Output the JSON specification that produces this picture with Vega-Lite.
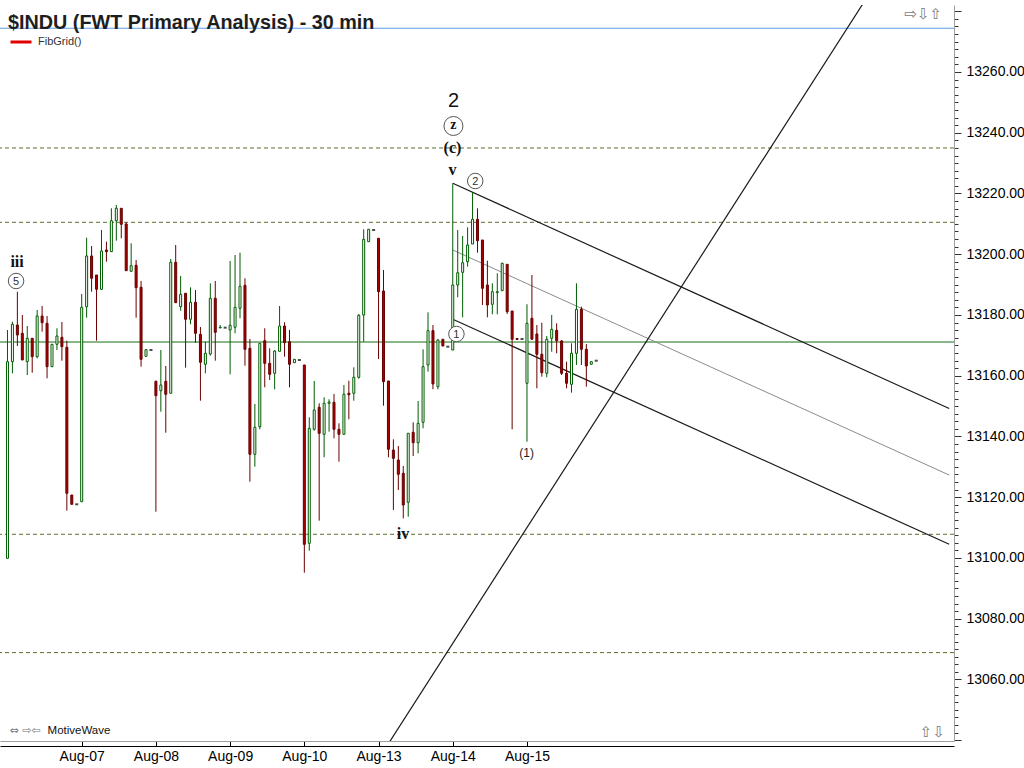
{
  "$schema": "https://vega.github.io/schema/vega-lite/v6.json",
  "width": 954,
  "height": 736,
  "autosize": {"type": "none"},
  "padding": {"left": 0, "top": 5, "right": 70, "bottom": 27},
  "background": "white",
  "config": {"view": {"stroke": null}, "font": "Liberation Sans"},
  "title": {"text": "$INDU (FWT Primary Analysis) - 30 min", "anchor": "start", "frame": "group", "offset": -29, "dx": 8, "fontSize": 19.8, "fontWeight": "bold", "font": "Liberation Sans", "color": "#1e1e1e"},
  "datasets": {
    "bars": [
      {"k":0,"o":13099.90,"h":13175.06,"l":13099.90,"c":13164.62},
      {"k":1,"o":13164.62,"h":13177.79,"l":13160.80,"c":13176.93},
      {"k":2,"o":13176.70,"h":13187.67,"l":13169.79,"c":13173.41},
      {"k":3,"o":13173.97,"h":13180.00,"l":13165.18,"c":13165.18},
      {"k":4,"o":13164.62,"h":13176.37,"l":13160.24,"c":13172.32},
      {"k":5,"o":13172.32,"h":13172.32,"l":13161.00,"c":13166.27},
      {"k":6,"o":13166.27,"h":13181.64,"l":13165.74,"c":13179.67},
      {"k":7,"o":13179.67,"h":13182.96,"l":13174.50,"c":13177.46},
      {"k":8,"o":13177.26,"h":13179.67,"l":13159.16,"c":13162.98},
      {"k":9,"o":13162.98,"h":13170.35,"l":13162.98,"c":13170.35},
      {"k":10,"o":13170.35,"h":13175.62,"l":13168.47,"c":13173.08},
      {"k":11,"o":13172.65,"h":13177.69,"l":13164.95,"c":13169.56},
      {"k":12,"o":13169.36,"h":13171.54,"l":13115.57,"c":13121.30},
      {"k":13,"o":13120.74,"h":13120.74,"l":13117.67,"c":13117.67},
      {"k":14,"o":13117.67,"h":13117.67,"l":13117.67,"c":13117.67},
      {"k":15,"o":13118.53,"h":13186.91,"l":13118.53,"c":13182.53},
      {"k":16,"o":13182.73,"h":13205.44,"l":13179.11,"c":13199.42},
      {"k":17,"o":13199.42,"h":13202.71,"l":13187.67,"c":13192.08},
      {"k":18,"o":13193.16,"h":13193.16,"l":13171.54,"c":13188.46},
      {"k":19,"o":13188.46,"h":13207.98,"l":13188.23,"c":13201.07},
      {"k":20,"o":13201.40,"h":13204.13,"l":13197.54,"c":13200.84},
      {"k":21,"o":13200.84,"h":13215.12,"l":13200.84,"c":13211.04},
      {"k":22,"o":13211.04,"h":13216.21,"l":13204.46,"c":13215.12},
      {"k":23,"o":13215.12,"h":13215.12,"l":13205.25,"c":13209.86},
      {"k":24,"o":13209.96,"h":13210.51,"l":13194.58,"c":13194.58},
      {"k":25,"o":13194.38,"h":13203.60,"l":13194.38,"c":13196.23},
      {"k":26,"o":13196.36,"h":13198.10,"l":13179.11,"c":13188.98},
      {"k":27,"o":13189.12,"h":13191.19,"l":13162.98,"c":13165.41},
      {"k":28,"o":13166.40,"h":13168.57,"l":13166.40,"c":13168.57},
      {"k":29,"o":13168.47,"h":13168.47,"l":13168.47,"c":13168.47},
      {"k":30,"o":13158.17,"h":13158.37,"l":13115.24,"c":13153.43},
      {"k":31,"o":13155.07,"h":13168.47,"l":13148.16,"c":13156.95},
      {"k":32,"o":13158.17,"h":13163.21,"l":13141.25,"c":13153.89},
      {"k":33,"o":13154.22,"h":13198.43,"l":13154.22,"c":13197.35},
      {"k":34,"o":13197.35,"h":13203.04,"l":13184.05,"c":13184.05},
      {"k":35,"o":13182.73,"h":13192.84,"l":13181.41,"c":13186.81},
      {"k":36,"o":13187.14,"h":13187.14,"l":13162.65,"c":13178.58},
      {"k":37,"o":13178.58,"h":13189.11,"l":13176.93,"c":13184.18},
      {"k":38,"o":13184.18,"h":13188.23,"l":13170.88,"c":13173.97},
      {"k":39,"o":13173.64,"h":13176.05,"l":13151.78,"c":13164.42},
      {"k":40,"o":13163.77,"h":13171.21,"l":13160.80,"c":13167.39},
      {"k":41,"o":13167.16,"h":13190.43,"l":13166.60,"c":13185.49},
      {"k":42,"o":13185.49,"h":13191.19,"l":13164.95,"c":13174.30},
      {"k":43,"o":13175.72,"h":13176.70,"l":13175.72,"c":13175.95},
      {"k":44,"o":13175.82,"h":13175.82,"l":13175.82,"c":13175.82},
      {"k":45,"o":13175.06,"h":13197.77,"l":13160.47,"c":13176.60},
      {"k":46,"o":13175.95,"h":13199.75,"l":13173.97,"c":13182.53},
      {"k":47,"o":13182.20,"h":13200.51,"l":13178.91,"c":13189.44},
      {"k":48,"o":13189.77,"h":13192.08,"l":13163.31,"c":13168.70},
      {"k":49,"o":13169.03,"h":13172.10,"l":13125.12,"c":13134.14},
      {"k":50,"o":13134.14,"h":13150.70,"l":13130.05,"c":13143.03},
      {"k":51,"o":13143.22,"h":13170.68,"l":13142.37,"c":13170.68},
      {"k":52,"o":13171.54,"h":13175.62,"l":13156.19,"c":13164.09},
      {"k":53,"o":13164.09,"h":13169.03,"l":13158.60,"c":13160.47},
      {"k":54,"o":13160.80,"h":13168.47,"l":13155.53,"c":13168.14},
      {"k":55,"o":13168.05,"h":13182.96,"l":13168.05,"c":13176.37},
      {"k":56,"o":13176.37,"h":13177.59,"l":13166.27,"c":13170.88},
      {"k":57,"o":13171.21,"h":13175.06,"l":13156.19,"c":13163.77},
      {"k":58,"o":13164.29,"h":13165.41,"l":13164.29,"c":13165.41},
      {"k":59,"o":13165.18,"h":13165.18,"l":13165.18,"c":13165.18},
      {"k":60,"o":13163.54,"h":13163.54,"l":13095.16,"c":13104.50},
      {"k":61,"o":13104.83,"h":13146.32,"l":13102.40,"c":13142.69},
      {"k":62,"o":13142.37,"h":13158.27,"l":13141.90,"c":13148.72},
      {"k":63,"o":13149.61,"h":13150.93,"l":13112.28,"c":13141.05},
      {"k":64,"o":13140.72,"h":13152.90,"l":13133.15,"c":13150.93},
      {"k":65,"o":13150.93,"h":13152.24,"l":13141.58,"c":13151.35},
      {"k":66,"o":13151.25,"h":13153.99,"l":13139.40,"c":13142.37},
      {"k":67,"o":13142.37,"h":13144.34,"l":13131.70,"c":13140.72},
      {"k":68,"o":13140.72,"h":13156.95,"l":13140.72,"c":13153.89},
      {"k":69,"o":13154.22,"h":13158.37,"l":13145.66,"c":13153.76},
      {"k":70,"o":13154.22,"h":13162.78,"l":13151.78,"c":13159.49},
      {"k":71,"o":13159.49,"h":13180.33,"l":13159.02,"c":13179.90},
      {"k":72,"o":13180.00,"h":13208.21,"l":13171.21,"c":13204.92},
      {"k":73,"o":13204.13,"h":13208.21,"l":13204.13,"c":13208.21},
      {"k":74,"o":13207.98,"h":13207.98,"l":13207.98,"c":13207.98},
      {"k":75,"o":13205.25,"h":13205.25,"l":13165.51,"c":13187.67},
      {"k":76,"o":13187.90,"h":13194.81,"l":13150.14,"c":13158.04},
      {"k":77,"o":13158.27,"h":13158.27,"l":13133.15,"c":13135.78},
      {"k":78,"o":13135.55,"h":13139.07,"l":13115.80,"c":13132.82},
      {"k":79,"o":13132.26,"h":13136.87,"l":13122.38,"c":13127.55},
      {"k":80,"o":13127.88,"h":13130.28,"l":13113.06,"c":13117.44},
      {"k":81,"o":13118.33,"h":13141.05,"l":13113.59,"c":13141.05},
      {"k":82,"o":13141.38,"h":13144.67,"l":13133.58,"c":13137.95},
      {"k":83,"o":13137.95,"h":13151.68,"l":13134.46,"c":13144.34},
      {"k":84,"o":13144.67,"h":13168.70,"l":13142.69,"c":13162.98},
      {"k":85,"o":13163.54,"h":13180.88,"l":13161.33,"c":13174.83},
      {"k":86,"o":13174.83,"h":13176.70,"l":13155.53,"c":13157.28},
      {"k":87,"o":13156.39,"h":13172.00,"l":13155.53,"c":13171.77},
      {"k":88,"o":13172.00,"h":13172.00,"l":13169.79,"c":13169.79},
      {"k":89,"o":13169.56,"h":13169.56,"l":13169.56,"c":13169.56},
      {"k":90,"o":13168.47,"h":13223.35,"l":13168.47,"c":13189.87},
      {"k":91,"o":13189.87,"h":13207.98,"l":13185.82,"c":13193.92},
      {"k":92,"o":13194.05,"h":13206.00,"l":13179.24,"c":13197.21},
      {"k":93,"o":13197.54,"h":13208.87,"l":13195.90,"c":13203.04},
      {"k":94,"o":13203.37,"h":13220.49,"l":13203.37,"c":13211.50},
      {"k":95,"o":13211.50,"h":13215.12,"l":13200.51,"c":13204.46},
      {"k":96,"o":13204.69,"h":13204.69,"l":13183.29,"c":13188.79},
      {"k":97,"o":13189.87,"h":13197.87,"l":13179.24,"c":13183.29},
      {"k":98,"o":13183.52,"h":13190.43,"l":13180.23,"c":13187.67},
      {"k":99,"o":13187.34,"h":13193.72,"l":13180.23,"c":13187.67},
      {"k":100,"o":13188.00,"h":13197.21,"l":13188.00,"c":13197.02},
      {"k":101,"o":13196.69,"h":13196.69,"l":13180.33,"c":13181.08},
      {"k":102,"o":13181.31,"h":13181.31,"l":13142.37,"c":13172.00},
      {"k":103,"o":13172.26,"h":13172.26,"l":13171.93,"c":13171.93},
      {"k":104,"o":13172.10,"h":13172.10,"l":13172.10,"c":13172.10},
      {"k":105,"o":13157.51,"h":13183.52,"l":13138.28,"c":13177.26},
      {"k":106,"o":13178.91,"h":13193.16,"l":13172.00,"c":13172.00},
      {"k":107,"o":13173.74,"h":13176.70,"l":13155.86,"c":13167.06},
      {"k":108,"o":13167.06,"h":13177.46,"l":13159.68,"c":13161.00},
      {"k":109,"o":13160.80,"h":13173.08,"l":13159.49,"c":13172.00},
      {"k":110,"o":13172.32,"h":13180.00,"l":13167.91,"c":13175.29},
      {"k":111,"o":13174.96,"h":13177.26,"l":13167.39,"c":13171.54},
      {"k":112,"o":13171.44,"h":13171.77,"l":13160.24,"c":13160.80},
      {"k":113,"o":13160.80,"h":13164.62,"l":13155.86,"c":13157.51},
      {"k":114,"o":13157.18,"h":13170.68,"l":13154.42,"c":13167.39},
      {"k":115,"o":13167.39,"h":13190.43,"l":13163.54,"c":13181.87},
      {"k":116,"o":13181.87,"h":13182.73,"l":13163.54,"c":13168.70},
      {"k":117,"o":13168.70,"h":13170.45,"l":13156.39,"c":13163.21},
      {"k":118,"o":13163.77,"h":13164.62,"l":13163.77,"c":13164.62},
      {"k":119,"o":13164.95,"h":13164.95,"l":13164.95,"c":13164.95}
    ],
    "fib": [{"p":13234.98},{"p":13210.51},{"p":13107.80},{"p":13068.85}],
    "hl": [{"name":"last","p":13171.1},{"name":"ref","p":13274.4}],
    "lines": [
      {"id":"upper","k":90,"p":13223.35},{"id":"upper","k":190.34,"p":13149.2},
      {"id":"mid","k":90,"p":13201.4},{"id":"mid","k":190.34,"p":13127.3},
      {"id":"lower","k":90,"p":13178.6},{"id":"lower","k":190.34,"p":13104.5},
      {"id":"steep","k":70,"p":13021.1},{"id":"steep","k":180,"p":13300.5}
    ],
    "ann": [
      {"t":"2","g":"big","k":90.14,"p":13250.45},
      {"t":"z","g":"circleL","k":90.14,"p":13242.22},
      {"t":"(c)","g":"serif","k":89.94,"p":13234.98},
      {"t":"v","g":"serif","k":89.94,"p":13227.73},
      {"t":"2","g":"circle","k":94.54,"p":13224.11},
      {"t":"iii","g":"serif","k":1.94,"p":13197.45},
      {"t":"5","g":"circle","k":1.74,"p":13191.19},
      {"t":"iv","g":"serif","k":79.94,"p":13107.9},
      {"t":"1","g":"circle","k":90.74,"p":13173.74},
      {"t":"(1)","g":"small","k":104.94,"p":13134.57}
    ],
    "ui": [
      {"t":"⇔ ⇨⇦","g":"iconS","k":0.4,"p":13043.0},
      {"t":"MotiveWave","g":"brand","k":8.1,"p":13043.0},
      {"t":"⇨⇩⇧","g":"icon","k":181.3,"p":13279.1},
      {"t":"⇧⇩","g":"icon","k":184.4,"p":13042.7}
    ]
  },
  "resolve": {"axis": {"x": "independent", "y": "independent"}},
  "layer": [
    {
      "data": {"name": "fib"},
      "mark": {"type": "rule", "strokeDash": [4, 3], "strokeWidth": 1, "color": "#5b6e2c"},
      "encoding": {
        "y": {"field": "p", "type": "quantitative", "scale": {"domain": [13039.75, 13282.05], "nice": false, "zero": false},
          "axis": {"orient": "right", "title": null, "grid": false, "domain": false, "labels": false, "tickSize": 4, "tickColor": "#333333",
            "values": [13040,13042.5,13045,13047.5,13050,13052.5,13055,13057.5,13060,13062.5,13065,13067.5,13070,13072.5,13075,13077.5,13080,13082.5,13085,13087.5,13090,13092.5,13095,13097.5,13100,13102.5,13105,13107.5,13110,13112.5,13115,13117.5,13120,13122.5,13125,13127.5,13130,13132.5,13135,13137.5,13140,13142.5,13145,13147.5,13150,13152.5,13155,13157.5,13160,13162.5,13165,13167.5,13170,13172.5,13175,13177.5,13180,13182.5,13185,13187.5,13190,13192.5,13195,13197.5,13200,13202.5,13205,13207.5,13210,13212.5,13215,13217.5,13220,13222.5,13225,13227.5,13230,13232.5,13235,13237.5,13240,13242.5,13245,13247.5,13250,13252.5,13255,13257.5,13260,13262.5,13265,13267.5,13270,13272.5,13275,13277.5,13280]}}
      }
    },
    {
      "data": {"name": "fib"},
      "transform": [{"filter": "false"}],
      "mark": {"type": "rule", "strokeWidth": 3},
      "encoding": {
        "y": {"field": "p", "type": "quantitative", "scale": {"domain": [13039.75, 13282.05], "nice": false, "zero": false}, "axis": null},
        "color": {"datum": "FibGrid()", "scale": {"range": ["#e00000"]},
          "legend": {"title": null, "orient": "none", "legendX": 9, "legendY": 25, "padding": 0, "symbolType": "stroke", "symbolSize": 441, "symbolStrokeWidth": 3, "labelFont": "Liberation Sans", "labelFontSize": 11, "labelColor": "#333333", "labelOffset": 5}}
      }
    },
    {
      "data": {"name": "hl"},
      "mark": {"type": "rule", "strokeWidth": 1},
      "encoding": {
        "y": {"field": "p", "type": "quantitative", "scale": {"domain": [13039.75, 13282.05], "nice": false, "zero": false}, "axis": null},
        "color": {"condition": {"test": "datum.name == 'last'", "value": "#146e14"}, "value": "#5b9bea"}
      }
    },
    {
      "data": {"name": "lines"},
      "mark": {"type": "line", "clip": true},
      "encoding": {
        "x": {"field": "k", "type": "quantitative", "scale": {"domain": [-0.5, 190.3], "nice": false, "zero": false},
          "axis": {"orient": "bottom", "offset": 5, "title": null, "grid": false, "ticks": false, "labels": false, "domainColor": "#000000"}},
        "y": {"field": "p", "type": "quantitative", "scale": {"domain": [13039.75, 13282.05], "nice": false, "zero": false}, "axis": null},
        "detail": {"field": "id"},
        "color": {"condition": {"test": "datum.id == 'mid'", "value": "#8c8c8c"}, "value": "#1a1a1a"},
        "strokeWidth": {"condition": {"test": "datum.id == 'mid'", "value": 1}, "value": 1.2}
      }
    },
    {
      "data": {"name": "bars"},
      "transform": [{"filter": "datum.h > datum.l"}],
      "mark": {"type": "rule", "strokeWidth": 1},
      "encoding": {
        "x": {"field": "k", "type": "quantitative", "scale": {"domain": [-0.5, 190.3], "nice": false, "zero": false}, "axis": null},
        "y": {"field": "l", "type": "quantitative", "scale": {"domain": [13039.75, 13282.05], "nice": false, "zero": false}, "axis": null},
        "y2": {"field": "h"},
        "color": {"condition": {"test": "datum.c > datum.o", "value": "#005c00"}, "value": "#6a0000"}
      }
    },
    {
      "data": {"name": "bars"},
      "transform": [{"filter": "datum.h > datum.l"}],
      "mark": {"type": "bar", "width": 2, "strokeWidth": 1},
      "encoding": {
        "x": {"field": "k", "type": "quantitative", "scale": {"domain": [-0.5, 190.3], "nice": false, "zero": false},
          "axis": {"orient": "bottom", "title": null, "grid": false, "values": [15, 30, 45, 60, 75, 90, 105],
            "labelExpr": "['Aug-07','Aug-08','Aug-09','Aug-10','Aug-13','Aug-14','Aug-15'][round(datum.value / 15) - 1]",
            "tickSize": 5, "tickColor": "#000000", "domainColor": "#a0a0a0", "labelFont": "Liberation Sans", "labelFontSize": 14, "labelColor": "#000000", "labelPadding": 3, "labelFlush": false, "labelOverlap": false}},
        "y": {"field": "o", "type": "quantitative", "scale": {"domain": [13039.75, 13282.05], "nice": false, "zero": false},
          "axis": {"orient": "right", "title": null, "grid": false, "values": [13040, 13060, 13080, 13100, 13120, 13140, 13160, 13180, 13200, 13220, 13240, 13260, 13280],
            "format": ".2f", "labelExpr": "datum.value > 13270 || datum.value < 13050 ? '' : datum.label",
            "tickSize": 7, "tickColor": "#333333", "domainColor": "#a0a0a0", "labelFont": "Liberation Sans", "labelFontSize": 14, "labelColor": "#000000", "labelPadding": 5, "labelFlush": false, "labelOverlap": false}},
        "y2": {"field": "c"},
        "fill": {"condition": {"test": "datum.c > datum.o", "value": "#ffffff"}, "value": "#a60000"},
        "stroke": {"condition": {"test": "datum.c > datum.o", "value": "#005c00"}, "value": "#6a0000"}
      }
    },
    {
      "data": {"name": "bars"},
      "transform": [{"filter": "datum.h == datum.l"}],
      "mark": {"type": "tick", "orient": "horizontal", "size": 3, "thickness": 2, "color": "#000000"},
      "encoding": {
        "x": {"field": "k", "type": "quantitative", "scale": {"domain": [-0.5, 190.3], "nice": false, "zero": false}, "axis": null},
        "y": {"field": "c", "type": "quantitative", "scale": {"domain": [13039.75, 13282.05], "nice": false, "zero": false}, "axis": null}
      }
    },
    {
      "data": {"name": "ann"},
      "transform": [{"filter": "datum.g == 'circle' || datum.g == 'circleL'"}],
      "mark": {"type": "point", "shape": "circle", "filled": false, "fill": "#ffffff", "fillOpacity": 1, "stroke": "#555555", "strokeWidth": 1, "opacity": 1},
      "encoding": {
        "x": {"field": "k", "type": "quantitative", "scale": {"domain": [-0.5, 190.3], "nice": false, "zero": false}, "axis": null},
        "y": {"field": "p", "type": "quantitative", "scale": {"domain": [13039.75, 13282.05], "nice": false, "zero": false}, "axis": null},
        "size": {"condition": {"test": "datum.g == 'circleL'", "value": 361}, "value": 240}
      }
    },
    {
      "data": {"name": "ann"},
      "transform": [{"filter": "datum.g == 'circle'"}],
      "mark": {"type": "text", "font": "Liberation Sans", "fontSize": 11, "fill": "#333333", "align": "center", "baseline": "middle", "dy": 1},
      "encoding": {
        "x": {"field": "k", "type": "quantitative", "scale": {"domain": [-0.5, 190.3], "nice": false, "zero": false}, "axis": null},
        "y": {"field": "p", "type": "quantitative", "scale": {"domain": [13039.75, 13282.05], "nice": false, "zero": false}, "axis": null},
        "text": {"field": "t"}
      }
    },
    {
      "data": {"name": "ann"},
      "transform": [{"filter": "datum.g == 'circleL'"}],
      "mark": {"type": "text", "font": "Liberation Serif", "fontSize": 14, "fontWeight": "bold", "fill": "#111111", "align": "center", "baseline": "middle", "dy": -1},
      "encoding": {
        "x": {"field": "k", "type": "quantitative", "scale": {"domain": [-0.5, 190.3], "nice": false, "zero": false}, "axis": null},
        "y": {"field": "p", "type": "quantitative", "scale": {"domain": [13039.75, 13282.05], "nice": false, "zero": false}, "axis": null},
        "text": {"field": "t"}
      }
    },
    {
      "data": {"name": "ann"},
      "transform": [{"filter": "datum.g == 'serif'"}],
      "mark": {"type": "text", "font": "Liberation Serif", "fontSize": 16, "fontWeight": "bold", "fill": "#111111", "align": "center", "baseline": "middle", "dy": 0},
      "encoding": {
        "x": {"field": "k", "type": "quantitative", "scale": {"domain": [-0.5, 190.3], "nice": false, "zero": false}, "axis": null},
        "y": {"field": "p", "type": "quantitative", "scale": {"domain": [13039.75, 13282.05], "nice": false, "zero": false}, "axis": null},
        "text": {"field": "t"}
      }
    },
    {
      "data": {"name": "ann"},
      "transform": [{"filter": "datum.g == 'big'"}],
      "mark": {"type": "text", "font": "Liberation Sans", "fontSize": 20, "fill": "#111111", "align": "center", "baseline": "middle"},
      "encoding": {
        "x": {"field": "k", "type": "quantitative", "scale": {"domain": [-0.5, 190.3], "nice": false, "zero": false}, "axis": null},
        "y": {"field": "p", "type": "quantitative", "scale": {"domain": [13039.75, 13282.05], "nice": false, "zero": false}, "axis": null},
        "text": {"field": "t"}
      }
    },
    {
      "data": {"name": "ann"},
      "transform": [{"filter": "datum.g == 'small'"}],
      "mark": {"type": "text", "font": "Liberation Sans", "fontSize": 12, "fill": "#222222", "align": "center", "baseline": "middle"},
      "encoding": {
        "x": {"field": "k", "type": "quantitative", "scale": {"domain": [-0.5, 190.3], "nice": false, "zero": false}, "axis": null},
        "y": {"field": "p", "type": "quantitative", "scale": {"domain": [13039.75, 13282.05], "nice": false, "zero": false}, "axis": null},
        "text": {"field": "t"}
      }
    },
    {
      "data": {"name": "ui"},
      "transform": [{"filter": "datum.g == 'icon'"}],
      "mark": {"type": "text", "font": "DejaVu Sans", "fontSize": 15, "fill": "#7a7a7a", "align": "left", "baseline": "middle"},
      "encoding": {
        "x": {"field": "k", "type": "quantitative", "scale": {"domain": [-0.5, 190.3], "nice": false, "zero": false}, "axis": null},
        "y": {"field": "p", "type": "quantitative", "scale": {"domain": [13039.75, 13282.05], "nice": false, "zero": false}, "axis": null},
        "text": {"field": "t"}
      }
    },
    {
      "data": {"name": "ui"},
      "transform": [{"filter": "datum.g == 'iconS'"}],
      "mark": {"type": "text", "font": "DejaVu Sans", "fontSize": 11, "fill": "#7a7a7a", "align": "left", "baseline": "middle"},
      "encoding": {
        "x": {"field": "k", "type": "quantitative", "scale": {"domain": [-0.5, 190.3], "nice": false, "zero": false}, "axis": null},
        "y": {"field": "p", "type": "quantitative", "scale": {"domain": [13039.75, 13282.05], "nice": false, "zero": false}, "axis": null},
        "text": {"field": "t"}
      }
    },
    {
      "data": {"name": "ui"},
      "transform": [{"filter": "datum.g == 'brand'"}],
      "mark": {"type": "text", "font": "Liberation Sans", "fontSize": 11.5, "fill": "#111111", "align": "left", "baseline": "middle"},
      "encoding": {
        "x": {"field": "k", "type": "quantitative", "scale": {"domain": [-0.5, 190.3], "nice": false, "zero": false}, "axis": null},
        "y": {"field": "p", "type": "quantitative", "scale": {"domain": [13039.75, 13282.05], "nice": false, "zero": false}, "axis": null},
        "text": {"field": "t"}
      }
    }
  ]
}
